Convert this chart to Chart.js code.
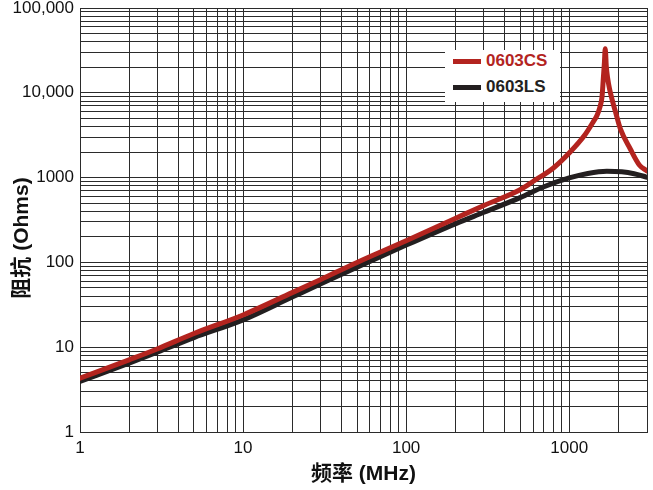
<!DOCTYPE html>
<html>
<head>
<meta charset="utf-8">
<script src="https://cdn.jsdelivr.net/npm/chart.js@4/dist/chart.umd.min.js"></script>
<style>
  html, body { margin: 0; padding: 0; background: #fff; }
  #wrap { position: relative; width: 653px; height: 490px; }
  #legend {
    position: absolute; left: 445px; top: 50px; width: 115px; height: 52px;
    background: #fff;
    font: bold 17px 'Liberation Sans', Arial, sans-serif;
  }
  #legend .row { position: absolute; left: 8px; height: 20px; display: flex; align-items: center; }
  #legend .swatch { width: 28px; height: 5px; margin-right: 5px; }
</style>
</head>
<body>
<div id="wrap">
  <canvas id="chart" width="653" height="490"></canvas>
  <div id="legend"></div>
</div>
<script>
// ── data ──
const freqCS = [1, 2, 3, 5, 10, 20, 30, 50, 100, 200, 300, 500, 600, 800, 1000, 1250, 1400, 1480, 1540, 1590, 1620, 1645, 1663, 1690, 1720, 1767, 1828, 1930, 2060, 2370, 2700, 3000];
const zCS    = [4.3, 7.1, 9.6, 14.5, 24, 44, 63, 100, 180, 330, 470, 720, 900, 1300, 1950, 3200, 4500, 5400, 6700, 9000, 15000, 23000, 33000, 20000, 15000, 11150, 8500, 5800, 3750, 2175, 1400, 1200];

const freqLS = [1, 2, 3, 5, 10, 20, 30, 50, 100, 200, 300, 500, 700, 1000, 1300, 1700, 2100, 2500, 3000];
const zLS    = [3.95, 6.5, 8.8, 13, 21, 39, 56, 88, 160, 285, 390, 580, 780, 990, 1120, 1190, 1170, 1110, 1010];

const seriesNames = ['0603CS', '0603LS'];
const seriesColors = ['#b3241f', '#231f20'];

const xTickValues = [1, 10, 100, 1000];
const xTickLabels = ['1', '10', '100', '1000'];
const yTickValues = [1, 10, 100, 1000, 10000, 100000];
const yTickLabels = ['1', '10', '100', '1000', '10,000', '100,000'];

const xTitle = '频率 (MHz)';
const yTitle = '阻抗 (Ohms)';

// gridlines at 1..9 x 10^n
function logGrid(min, max) {
  const out = [];
  for (let e = 0; Math.pow(10, e) <= max; e++) {
    for (let m = 1; m <= 9; m++) {
      const v = m * Math.pow(10, e);
      if (v >= min && v <= max) out.push({ value: v });
    }
  }
  return out;
}

const FONT = "'Liberation Sans', 'Noto Sans CJK SC', Arial, sans-serif";

const yTitlePlugin = {
  id: 'yTitle',
  afterDraw(chart) {
    const ctx = chart.ctx;
    ctx.save();
    ctx.translate(22, 238);
    ctx.rotate(-Math.PI / 2);
    ctx.font = 'bold 21px ' + FONT;
    ctx.fillStyle = '#111';
    ctx.textAlign = 'center';
    ctx.textBaseline = 'middle';
    ctx.fillText(yTitle, 0, 0);
    ctx.restore();
  }
};

const toPoints = (xs, ys) => xs.map((x, i) => ({ x: x, y: ys[i] }));

const chart = new Chart(document.getElementById('chart'), {
  type: 'line',
  data: {
    datasets: [
      { label: seriesNames[0], data: toPoints(freqCS, zCS), borderColor: seriesColors[0] },
      { label: seriesNames[1], data: toPoints(freqLS, zLS), borderColor: seriesColors[1] }
    ]
  },
  options: {
    responsive: false,
    animation: false,
    layout: { padding: { top: 0, right: 5, left: 0, bottom: 0 } },
    elements: {
      point: { radius: 0 },
      line: { borderWidth: 5, cubicInterpolationMode: 'monotone', borderCapStyle: 'round', borderJoinStyle: 'round', fill: false }
    },
    plugins: { legend: { display: false }, tooltip: { enabled: false } },
    scales: {
      x: {
        type: 'logarithmic', min: 1, max: 3000,
        afterBuildTicks: s => { s.ticks = logGrid(1, 3000); },
        afterFit: s => { s.height = 58; },
        grid: { color: '#2b2b2b', lineWidth: 1, drawTicks: false },
        border: { color: '#2b2b2b', width: 1 },
        ticks: {
          autoSkip: false, maxRotation: 0, padding: 6, color: '#111',
          font: { family: FONT, size: 17 },
          callback: v => { const i = xTickValues.indexOf(v); return i < 0 ? '' : xTickLabels[i]; }
        },
        title: { display: true, text: xTitle, color: '#111', font: { family: FONT, size: 21, weight: 'bold' }, padding: { top: 0, bottom: 3 } }
      },
      y: {
        type: 'logarithmic', min: 1, max: 100000,
        afterBuildTicks: s => { s.ticks = logGrid(1, 100000); },
        afterFit: s => { s.width = 80; s.paddingTop = 8; },
        grid: { color: '#2b2b2b', lineWidth: 1, drawTicks: false },
        border: { color: '#2b2b2b', width: 1 },
        ticks: {
          autoSkip: false, padding: 6, color: '#111',
          font: { family: FONT, size: 17 },
          callback: v => { const i = yTickValues.indexOf(v); return i < 0 ? '' : yTickLabels[i]; }
        }
      }
    }
  },
  plugins: [yTitlePlugin]
});

// ── legend ──
const legend = document.getElementById('legend');
chart.data.datasets.forEach((ds, i) => {
  const row = document.createElement('div');
  row.className = 'row';
  row.style.top = (1 + i * 26) + 'px';
  const sw = document.createElement('span');
  sw.className = 'swatch';
  sw.style.background = ds.borderColor;
  const label = document.createElement('span');
  label.textContent = ds.label;
  label.style.color = ds.borderColor;
  row.appendChild(sw);
  row.appendChild(label);
  legend.appendChild(row);
});
</script>
</body>
</html>
